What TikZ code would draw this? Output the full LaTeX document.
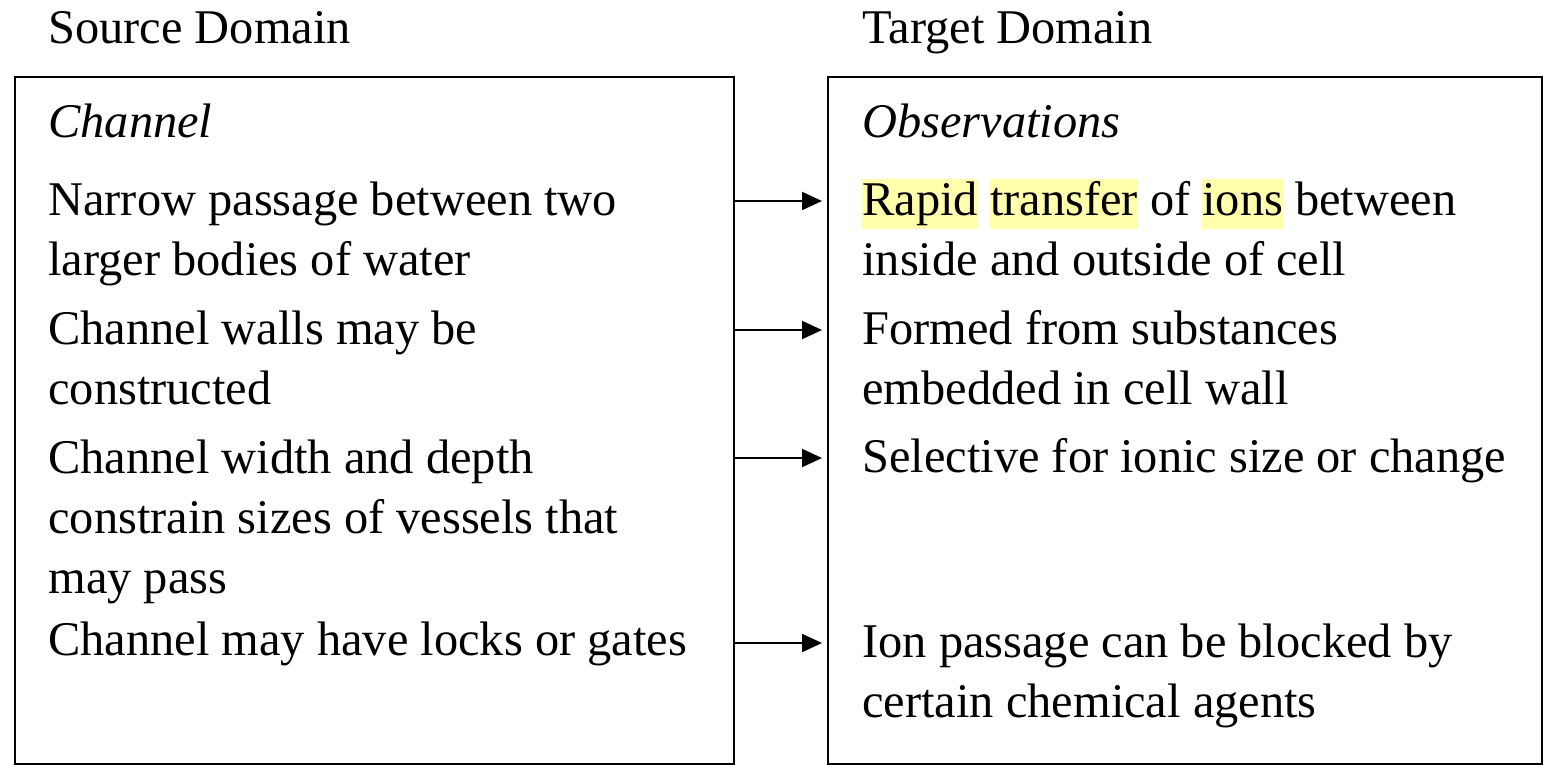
\documentclass[tikz,border=0pt]{standalone}
\usepackage{fontspec}
\setmainfont{Liberation Serif}
\usepackage{tikz}
\usetikzlibrary{arrows.meta}
\usetikzlibrary{positioning}

\definecolor{hlyellow}{RGB}{255,255,172}
\newcommand{\hlword}[1]{{\setlength{\fboxsep}{0pt}\colorbox{hlyellow}{\rule[-6.5pt]{0pt}{25pt}#1}}}

\tikzset{
  domainbox/.style={draw, line width=1pt, anchor=north west, inner sep=0pt},
  entry/.style={align=left, inner sep=0pt, font=\fontsize{24.2}{30}\selectfont},
  link/.style={-{Triangle[length=10pt,width=9pt]}, line width=1pt, shorten >=2.5pt},
}

\begin{document}
\begin{tikzpicture}[x=0.5pt, y=-0.5pt, every node/.style={anchor=base west}]
\useasboundingbox (0,0) rectangle (1544,765);

% the two domain boxes
\node[domainbox, minimum width=359.5pt, minimum height=343.5pt] (src) at (14,76) {};
\node[domainbox, minimum width=357pt, minimum height=343.5pt] (tgt) at (827,76) {};

\node[entry] (srchead) at (48,44) {Source Domain};
\node[entry] (tgthead) at (862,44) {Target Domain};

% source side (base = last line)
\node[entry] (s0) at (48,138) {\itshape Channel};
\node[entry] (s1) at (48,276) {Narrow passage between two\\larger bodies of water};
\node[entry] (s2) at (48,404) {Channel walls may be\\constructed};
\node[entry] (s3) at (48,593) {Channel width and depth\\constrain sizes of vessels that\\may pass};
\node[entry] (s4) at (48,655) {Channel may have locks or gates};

% target side
\node[entry] (t0) at (862,138) {\itshape Observations};
\node[entry] (t1) at (862,276) {\hlword{Rapid} \hlword{transfer} of \hlword{ions} between\\inside and outside of cell};
\node[entry] (t2) at (862,404) {Formed from substances\\embedded in cell wall};
\node[entry] (t3) at (862,472) {Selective for ionic size or change};
\node[entry] (t4) at (862,717) {Ion passage can be blocked by\\certain chemical agents};

\coordinate (a1) at (0,201);
\coordinate (a2) at (0,330);
\coordinate (a3) at (0,458);
\coordinate (a4) at (0,643);

\draw[link] (src.east |- a1) -- (tgt.west |- a1);
\draw[link] (src.east |- a2) -- (tgt.west |- a2);
\draw[link] (src.east |- a3) -- (tgt.west |- a3);
\draw[link] (src.east |- a4) -- (tgt.west |- a4);
\end{tikzpicture}
\end{document}
